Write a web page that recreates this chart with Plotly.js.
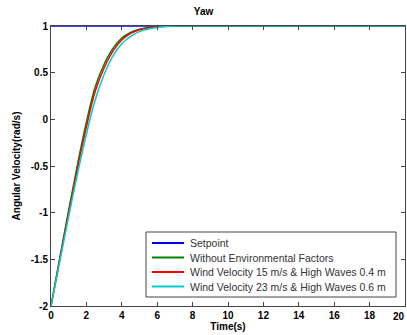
<!DOCTYPE html>
<html><head><meta charset="utf-8">
<script src="https://cdn.plot.ly/plotly-3.0.1.min.js"></script>
<style>html,body{margin:0;padding:0;background:#fff}#chart{width:407px;height:335px}</style>
</head><body><div id="chart"></div>
<script>
const setX = [0, 20];
const setY = [1, 1];
const greenX = [0,0.5,1,1.5,2,2.5,3,3.5,4,4.5,5,5.5,6,6.5,7,20];
const greenY = [-2,-1.48,-0.97,-0.48,-0.03,0.35,0.59,0.76,0.87,0.93,0.965,0.984,0.994,0.999,1,1];
const redX = [0,0.5,1,1.5,2,2.5,3,3.5,4,4.5,5,5.5,6,6.5,7,20];
const redY = [-2,-1.5,-1.0,-0.52,-0.08,0.3,0.55,0.73,0.85,0.92,0.96,0.98,0.992,0.998,1,1];
const cyanX = [0,0.5,1,1.5,2,2.5,3,3.5,4,4.5,5,5.5,6,6.5,7,7.5,20];
const cyanY = [-2,-1.52,-1.04,-0.58,-0.16,0.21,0.48,0.68,0.81,0.89,0.94,0.968,0.985,0.994,0.999,1,1];
const names = ['Setpoint','Without Environmental Factors','Wind Velocity 15 m/s & High Waves 0.4 m','Wind Velocity 23 m/s & High Waves 0.6 m'];
const colors = ['#0000ff','#008000','#ff0000','#00cccc'];
const xTicks = [0,2,4,6,8,10,12,14,16,18];
const xLastTick = 20;
const yTicks = [-2,-1.5,-1,-0.5,0,0.5,1];

const traces = [
  {x:setX,y:setY,name:names[0],line:{color:colors[0],width:1.5}},
  {x:greenX,y:greenY,name:names[1],line:{color:colors[1],width:1.5,shape:'spline'}},
  {x:redX,y:redY,name:names[2],line:{color:colors[2],width:1.5,shape:'spline'}},
  {x:cyanX,y:cyanY,name:names[3],line:{color:colors[3],width:1.5,shape:'spline'}}
].map(t=>Object.assign({type:'scatter',mode:'lines',showlegend:false},t));

const L = 51, R = 2, T = 26, B = 29, W = 407, H = 335;
const pw = W-L-R, ph = H-T-B;
const px = v => (v-L)/pw;           // pixel -> paper x
const py = v => (H-B-v)/ph;         // pixel -> paper y

const tf = {family:'Arial, Liberation Sans, sans-serif',size:10,color:'#000',weight:'bold'};
const axCommon = {showline:true,linecolor:'#444',linewidth:1,mirror:'allticks',ticks:'inside',ticklen:4,tickcolor:'#444',showgrid:false,zeroline:false,tickfont:tf};

// custom legend
const shapes = [{type:'rect',xref:'paper',yref:'paper',x0:px(146),x1:px(396),y0:py(297),y1:py(232),line:{color:'#444',width:1},fillcolor:'#fff',layer:'above'}];
const annotations = [];
const rowY = [243, 257.5, 272, 286.5];
names.forEach((n,i)=>{
  shapes.push({type:'line',xref:'paper',yref:'paper',x0:px(152),x1:px(184),y0:py(rowY[i]),y1:py(rowY[i]),line:{color:colors[i],width:2},layer:'above'});
  annotations.push({xref:'paper',yref:'paper',x:px(188),y:py(rowY[i]),xanchor:'left',yanchor:'middle',showarrow:false,text:n,font:{family:'Arial',size:10.5,color:'#333'}});
});
// last x tick (at the right edge of the figure)
const xAll = xTicks.concat([xLastTick]);
annotations.push({xref:'x',yref:'paper',x:xLastTick,y:0,yanchor:'top',xanchor:'right',xshift:2,yshift:-3,showarrow:false,text:String(xLastTick),font:tf});

const layout = {
  width:W,height:H,
  margin:{l:L,r:R,t:T,b:B},
  paper_bgcolor:'#fff',plot_bgcolor:'#fff',
  title:{text:'Yaw',font:{family:'Arial',size:10,color:'#000',weight:'bold'},x:0.5,xanchor:'center',y:0.965,yanchor:'middle'},
  xaxis:Object.assign({},axCommon,{range:[0,20],tickmode:'array',tickvals:xAll,ticktext:xTicks.map(String).concat(['']),
    title:{text:'Time(s)',font:{family:'Arial',size:10,color:'#000',weight:'bold'},standoff:2}}),
  yaxis:Object.assign({},axCommon,{range:[-2,1],tickmode:'array',tickvals:yTicks,ticktext:yTicks.map(String),
    title:{text:'Angular Velocity(rad/s)',font:{family:'Arial',size:10,color:'#000',weight:'bold'},standoff:8}}),
  showlegend:false,
  shapes:shapes, annotations:annotations
};
Plotly.newPlot('chart',traces,layout,{staticPlot:true,displayModeBar:false});
</script></body></html>
